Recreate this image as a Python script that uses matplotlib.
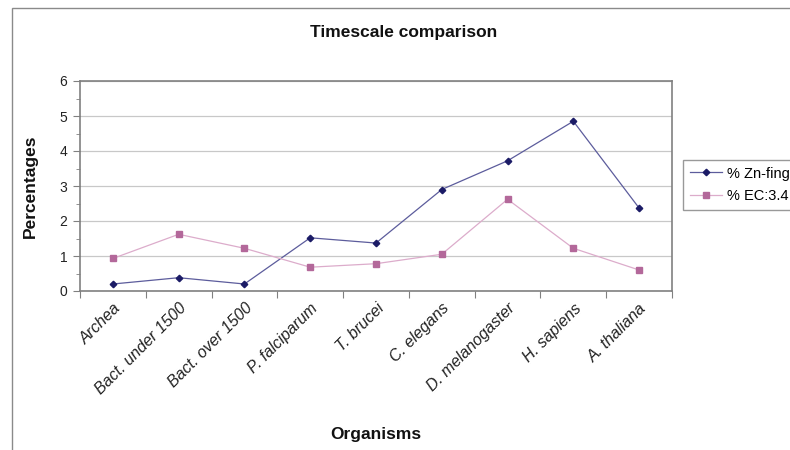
import numpy as np
import matplotlib.pyplot as plt
from matplotlib.patches import Rectangle

organisms = ['Archea', 'Bact. under 1500', 'Bact. over 1500', 'P. falciparum',
             'T. brucei', 'C. elegans', 'D. melanogaster', 'H. sapiens', 'A. thaliana']
zn_fing = [0.2, 0.38, 0.2, 1.52, 1.37, 2.9, 3.72, 4.85, 2.37]
ec_34 = [0.93, 1.62, 1.22, 0.68, 0.78, 1.05, 2.62, 1.22, 0.6]

plt.rcParams['font.family'] = ['Liberation Sans', 'DejaVu Sans']

W, H = 790, 450
fig = plt.figure(figsize=(W / 100, H / 100), dpi=100)

# chart area frame (runs off the right and bottom edges)
fig.patches.append(Rectangle((12 / W, -0.1), 1.0, 1.1 - 8 / H, transform=fig.transFigure,
                             fill=False, edgecolor='#8a8a8a', linewidth=1.0))

ax = fig.add_axes([80 / W, 1 - 291 / H, (672 - 80) / W, (291 - 81) / H])
x = np.arange(len(organisms))

ax.plot(x, zn_fing, color='#5c5c9c', linewidth=0.9, marker='D', markersize=3.3,
        markerfacecolor='#1b1b66', markeredgecolor='#1b1b66', label='% Zn-fing')
ax.plot(x, ec_34, color='#dcaccb', linewidth=0.9, marker='s', markersize=4.3,
        markerfacecolor='#b3689a', markeredgecolor='#b3689a', label='% EC:3.4')

ax.set_xlim(-0.5, len(organisms) - 0.5)
ax.set_ylim(0, 6)
ax.set_yticks(range(0, 7))
ax.set_yticks(np.arange(0.5, 6, 1.0), minor=True)
ax.yaxis.grid(True, color='#c8c8c8', linewidth=0.9)
ax.set_axisbelow(True)

# category ticks sit between the labels
ax.set_xticks(np.arange(-0.5, len(organisms)))
ax.set_xticklabels([])
ax.set_xticks(x, minor=True)
ax.set_xticklabels(organisms, minor=True, rotation=45, ha='right', rotation_mode='anchor',
                   fontsize=11.5, fontstyle='italic', color='#222222')
ax.tick_params(axis='x', which='minor', length=0, pad=7)
ax.tick_params(axis='x', which='major', length=5, color='#808080', direction='out')
ax.tick_params(axis='y', which='major', length=5, color='#808080', direction='out',
               labelsize=10, labelcolor='#222222', pad=4)
ax.tick_params(axis='y', which='minor', length=3, color='#808080', direction='out')

for side in ['left', 'bottom', 'top', 'right']:
    ax.spines[side].set_color('#808080')
    ax.spines[side].set_linewidth(1.2)

ax.set_xlabel('Organisms', fontsize=12.5, fontweight='bold', color='#111111')
ax.xaxis.set_label_coords(376 / W, 1 - 427 / H, transform=fig.transFigure)
ax.set_ylabel('Percentages', fontsize=12.5, fontweight='bold', color='#111111')
ax.yaxis.set_label_coords(38 / W, 1 - 186 / H, transform=fig.transFigure)

fig.text(404 / W, 1 - 33 / H, 'Timescale comparison', ha='center', va='center',
         fontsize=12.5, fontweight='bold', color='#111111')

leg = ax.legend(loc='upper left', bbox_to_anchor=(683 / W, 1 - 160 / H),
                bbox_transform=fig.transFigure, frameon=True, fancybox=False,
                fontsize=10.5, handlelength=2.2, handletextpad=0.35,
                borderpad=0.45, labelspacing=0.6, borderaxespad=0)
leg.get_frame().set_edgecolor('#808080')
leg.get_frame().set_linewidth(1.0)

fig.savefig('out.png', dpi=100)
